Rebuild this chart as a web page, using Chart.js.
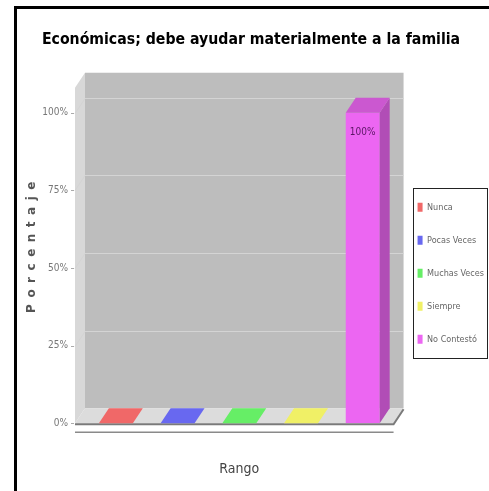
<!DOCTYPE html>
<html>
<head>
<meta charset="utf-8">
<script src="https://cdn.jsdelivr.net/npm/chart.js@4.4.1/dist/chart.umd.min.js"></script>
<style>
  html, body { margin: 0; padding: 0; background: #fff; overflow: hidden; }
  #frame { position: absolute; left: 14px; top: 6px; width: 600px; height: 600px;
           border-left: 3px solid #000; border-top: 3px solid #000; }
  #grafico { position: absolute; left: 0; top: 0; }
</style>
</head>
<body>
<div id="frame"></div>
<canvas id="grafico" width="489" height="491"></canvas>
<script>
const categorias = ['Nunca', 'Pocas Veces', 'Muchas Veces', 'Siempre', 'No Contestó'];
const porcentajes = [0, 0, 0, 0, 100];
const colores = ['#f06868', '#6868f0', '#66ee66', '#f0f066', '#ec66f2'];
const marcasY = [0, 25, 50, 75, 100];
const titulo = 'Económicas; debe ayudar materialmente a la familia';

const DX = 10, DY = 15;       // depth of the 3D box
const PAD_L = 10, PAD_R = 0;  // walls stick out past the chart area
const narrow = "'DejaVu Sans Condensed', 'Liberation Sans Narrow', sans-serif";

// pick a title size that gives roughly the width of the original
const medir = document.createElement('canvas').getContext('2d');
medir.font = `bold 20px ${narrow}`;
const tamTitulo = Math.floor(20 * 420 / medir.measureText(titulo).width * 10) / 10;

function shade(hex, f) {
    const n = parseInt(hex.slice(1), 16);
    const r = Math.round(((n >> 16) & 255) * f);
    const g = Math.round(((n >> 8) & 255) * f);
    const b = Math.round((n & 255) * f);
    return `rgb(${r}, ${g}, ${b})`;
}

function poly(ctx, pts, fill) {
    ctx.beginPath();
    ctx.moveTo(pts[0][0], pts[0][1]);
    for (let i = 1; i < pts.length; i++) ctx.lineTo(pts[i][0], pts[i][1]);
    ctx.closePath();
    ctx.fillStyle = fill;
    ctx.fill();
}

const caja3d = {
    id: 'caja3d',
    beforeDatasetsDraw(chart) {
        const { ctx, chartArea: a, scales } = chart;
        const L = a.left - PAD_L, R = a.right + PAD_R, T = a.top, B = a.bottom;
        ctx.save();
        // back wall, left wall, floor
        poly(ctx, [[L + DX, T - DY], [R + DX, T - DY], [R + DX, B - DY], [L + DX, B - DY]], '#bdbdbd');
        poly(ctx, [[L, T], [L + DX, T - DY], [L + DX, B - DY], [L, B]], '#d8d8d8');
        poly(ctx, [[L, B], [L + DX, B - DY], [R + DX, B - DY], [R, B]], '#dcdcdc');
        // gridlines on the walls + small tick marks
        ctx.lineWidth = 1;
        marcasY.forEach(v => {
            const y = Math.round(scales.y.getPixelForValue(v)) + 0.5;
            ctx.strokeStyle = '#aaa';
            ctx.beginPath();
            ctx.moveTo(L - 4, y);
            ctx.lineTo(L - 1, y);
            ctx.stroke();
            if (v === 0) return;
            ctx.strokeStyle = '#d4d4d4';
            ctx.beginPath();
            ctx.moveTo(L, y);
            ctx.lineTo(L + DX, y - DY);
            ctx.lineTo(R + DX, y - DY);
            ctx.stroke();
        });
        // front edge of the floor and the axis line under it
        ctx.strokeStyle = '#7a7a7a';
        ctx.lineWidth = 2;
        ctx.beginPath();
        ctx.moveTo(L, B + 1);
        ctx.lineTo(R, B + 1);
        ctx.lineTo(R + DX, B - DY + 1);
        ctx.stroke();
        ctx.strokeStyle = '#8a8a8a';
        ctx.lineWidth = 1.5;
        ctx.beginPath();
        ctx.moveTo(L, B + 9);
        ctx.lineTo(R, B + 9);
        ctx.stroke();
        ctx.restore();
    },
    afterDatasetsDraw(chart) {
        const { ctx } = chart;
        const meta = chart.getDatasetMeta(0);
        ctx.save();
        meta.data.forEach((bar, i) => {
            const c = colores[i];
            const x0 = bar.x - bar.width / 2, x1 = bar.x + bar.width / 2;
            const top = bar.y, base = bar.base;
            const alto = base - top > 0.5;
            if (alto) {
                poly(ctx, [[x1, top], [x1 + DX, top - DY], [x1 + DX, base - DY], [x1, base]], shade(c, 0.75));
            }
            poly(ctx, [[x0, top], [x0 + DX, top - DY], [x1 + DX, top - DY], [x1, top]], alto ? shade(c, 0.86) : c);
            if (porcentajes[i] > 0) {
                ctx.fillStyle = '#5a1664';
                ctx.font = `10px ${narrow}`;
                ctx.textAlign = 'center';
                ctx.textBaseline = 'middle';
                ctx.fillText(porcentajes[i] + '%', bar.x, top + 20);
            }
        });
        ctx.restore();
    },
    afterDraw(chart) {
        const { ctx } = chart;
        // y axis title, letter-spaced
        ctx.save();
        ctx.translate(32, 244);
        ctx.rotate(-Math.PI / 2);
        ctx.letterSpacing = '6.5px';
        ctx.font = "bold 12px 'DejaVu Sans', sans-serif";
        ctx.fillStyle = '#555';
        ctx.textAlign = 'center';
        ctx.textBaseline = 'middle';
        ctx.fillText('Porcentaje', 0, 0);
        ctx.restore();
        // border round the legend
        const lg = chart.legend;
        if (!lg || !lg.legendHitBoxes.length) return;
        const hb = lg.legendHitBoxes;
        const last = hb[hb.length - 1];
        const x0 = hb[0].left - 5;
        const x1 = chart.width - 2;
        const y0 = hb[0].top - 15;
        const y1 = last.top + last.height + 14;
        ctx.save();
        ctx.strokeStyle = '#222';
        ctx.lineWidth = 1;
        ctx.strokeRect(Math.round(x0) + 0.5, Math.round(y0) + 0.5, Math.round(x1 - x0), Math.round(y1 - y0));
        ctx.restore();
    }
};

new Chart(document.getElementById('grafico'), {
    type: 'bar',
    data: {
        labels: categorias,
        datasets: [{
            label: 'Porcentaje',
            data: porcentajes,
            backgroundColor: colores,
            borderWidth: 0,
            barPercentage: 0.55,
            categoryPercentage: 1.0
        }]
    },
    options: {
        responsive: false,
        animation: false,
        layout: { padding: { top: 8, left: 8, right: -5, bottom: 7 } },
        scales: {
            x: {
                grid: { display: false },
                border: { display: false },
                ticks: { display: false },
                title: {
                    display: true,
                    text: 'Rango',
                    color: '#444',
                    font: { family: narrow, size: 14 },
                    padding: { top: 30, bottom: 6 }
                }
            },
            y: {
                min: 0,
                max: 108,
                afterBuildTicks(scale) {
                    scale.ticks = marcasY.map(v => ({ value: v }));
                },
                afterFit(scale) {
                    scale.width = 77;
                },
                grid: { display: false },
                border: { display: false },
                ticks: {
                    padding: 9,
                    color: '#777',
                    font: { family: narrow, size: 10 },
                    callback: v => v + '%'
                }
            }
        },
        plugins: {
            title: {
                display: true,
                text: titulo,
                color: '#000',
                font: { family: narrow, size: tamTitulo, weight: 'bold' },
                padding: { top: 23, bottom: 38 }
            },
            legend: {
                display: true,
                position: 'right',
                title: { display: true, text: '', padding: { top: 0, bottom: 40 } },
                labels: {
                    boxWidth: 5,
                    boxHeight: 9,
                    padding: 24,
                    color: '#555',
                    font: { family: narrow, size: 9 },
                    generateLabels() {
                        return categorias.map((c, i) => ({
                            text: c,
                            fillStyle: colores[i],
                            strokeStyle: colores[i],
                            lineWidth: 0,
                            hidden: false,
                            index: i
                        }));
                    }
                }
            },
            tooltip: { enabled: false }
        }
    },
    plugins: [caja3d]
});
</script>
</body>
</html>
